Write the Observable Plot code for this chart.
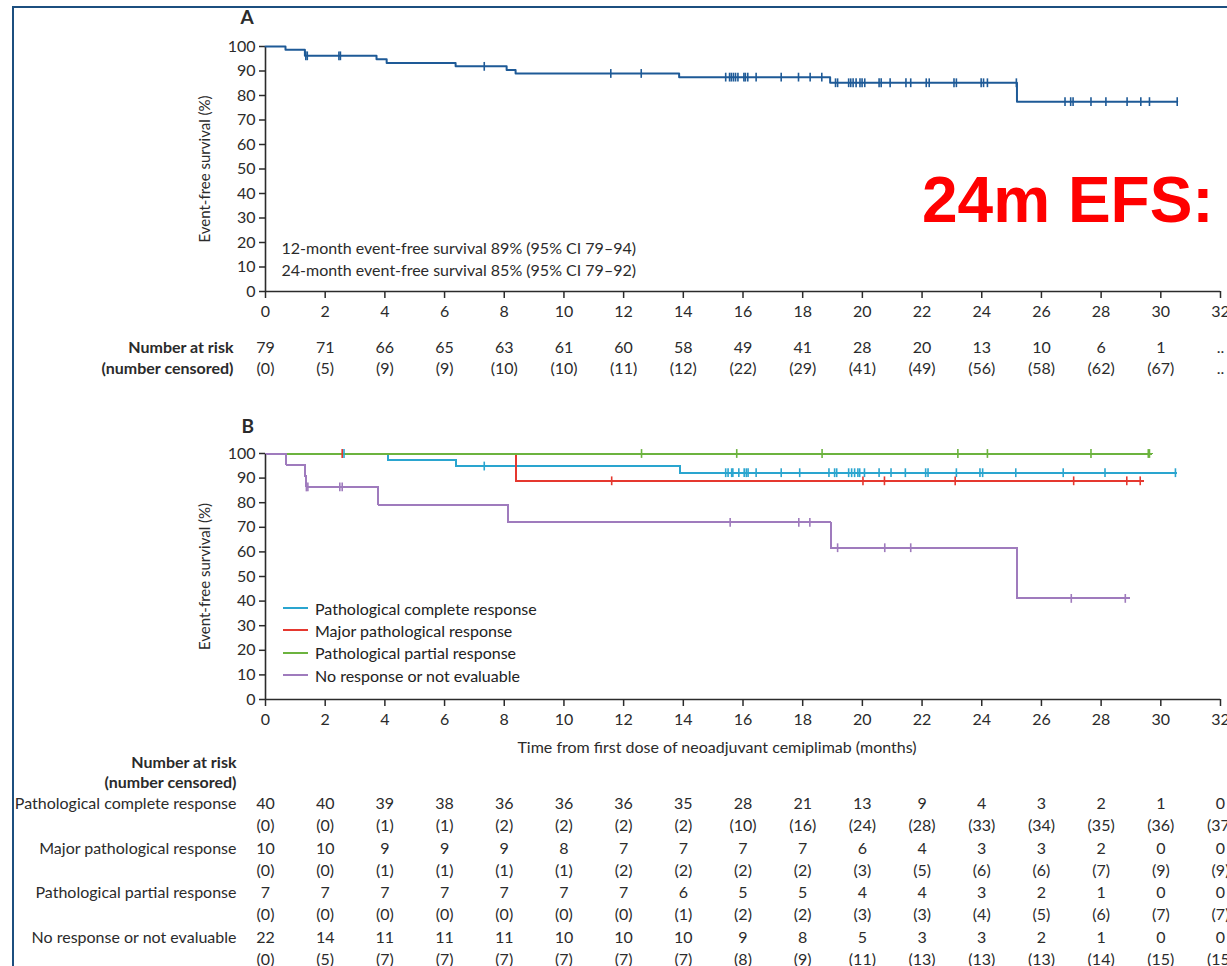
<!DOCTYPE html>
<html>
<head>
<meta charset="utf-8">
<script src="https://cdn.jsdelivr.net/npm/d3@7"></script>
<script src="https://cdn.jsdelivr.net/npm/@observablehq/plot@0.6"></script>
<style>
  html, body { margin: 0; padding: 0; background: #fff; width: 1227px; height: 966px; overflow: hidden; }
  #page { position: relative; width: 1227px; height: 966px; overflow: hidden; font-family: Lato, sans-serif; color: #222; }
  #frame { position: absolute; left: 12px; top: 6px; width: 1260px; height: 1010px; border: 2.5px solid #1c4f7f; box-sizing: border-box; }
  #panelA { position: absolute; left: 0; top: 0; }
  #panelB { position: absolute; left: 0; top: 390px; }
  #panelA svg, #panelB svg { max-width: none; }
  #stamp { position: absolute; left: 922px; top: 168px; font: bold 64px "Liberation Sans", Arial, sans-serif; line-height: 64px; color: #ff0000; white-space: nowrap; }
  #legend { position: absolute; left: 283px; top: 597px; font-size: 16px; color: #222; }
  #legend .row { display: flex; align-items: center; height: 22.3px; }
  #legend .sw { width: 25px; height: 0; border-top: 2px solid; margin-right: 7px; }
</style>
</head>
<body>
<div id="page">
  <div id="frame"></div>
  <div id="panelA"></div>
  <div id="panelB"></div>
  <div id="legend"></div>
  <div id="stamp">24m EFS:</div>
</div>
<script>
// ---------- axes ----------
const monthTicks = [0, 2, 4, 6, 8, 10, 12, 14, 16, 18, 20, 22, 24, 26, 28, 30, 32];
const percentTicks = [0, 10, 20, 30, 40, 50, 60, 70, 80, 90, 100];

// ---------- A: event-free survival, all patients (months, %) ----------
const efsTime  = [0, 0.67, 1.32, 3.72, 4.06, 6.37, 8.08, 8.38, 13.86, 18.92, 25.18, 30.55];
const efsValue = [100, 98.7, 96.2, 94.8, 93.3, 91.9, 90.4, 89.0, 87.5, 85.2, 77.5, 77.5];
const efsCensored = [1.35, 1.40, 2.46, 2.51, 7.33, 11.57, 12.59, 15.42, 15.55, 15.61, 15.68, 15.75,
  15.83, 16.03, 16.08, 16.16, 16.44, 17.28, 17.86, 18.25, 18.64, 19.10, 19.17, 19.54, 19.61, 19.69,
  19.79, 19.92, 19.99, 20.08, 20.56, 20.63, 20.93, 21.46, 21.62, 22.14, 22.24, 23.07, 23.15, 23.98,
  24.06, 24.19, 25.16, 26.79, 26.98, 27.06, 27.66, 28.16, 28.87, 29.33, 29.62, 30.55];
const efsAnnotation = [
  "12-month event-free survival 89% (95% CI 79–94)",
  "24-month event-free survival 85% (95% CI 79–92)"
];
const overallAtRisk   = [79, 71, 66, 65, 63, 61, 60, 58, 49, 41, 28, 20, 13, 10, 6, 1, null];
const overallCensored = [0, 5, 9, 9, 10, 10, 11, 12, 22, 29, 41, 49, 56, 58, 62, 67, null];

// ---------- B: event-free survival by pathological response ----------
const responseGroups = [
  "Pathological complete response",
  "Major pathological response",
  "Pathological partial response",
  "No response or not evaluable"
];
const groupColors = ["#2aa5cf", "#e5382f", "#6cb33f", "#9f7bbd"];

const pcrTime  = [0, 4.10, 6.39, 13.88, 30.52];
const pcrValue = [100, 97.4, 94.9, 92.2, 92.2];
const pcrCensored = [2.63, 7.33, 15.42, 15.50, 15.62, 15.66, 15.86, 16.04, 16.11, 16.17, 16.44, 17.28,
  17.90, 18.88, 19.07, 19.14, 19.54, 19.64, 19.74, 19.85, 19.91, 20.07, 20.56, 20.96, 21.44, 22.12,
  22.20, 23.15, 23.94, 24.03, 25.14, 26.73, 28.13, 30.49];

const mprTime  = [0, 8.38, 29.40];
const mprValue = [100, 88.9, 88.9];
const mprCensored = [2.57, 11.60, 20.02, 20.74, 23.11, 27.08, 28.86, 29.31];

const pprTime  = [0, 29.70];
const pprValue = [100, 100];
const pprCensored = [12.60, 15.79, 18.65, 23.20, 24.19, 27.66, 29.58, 29.62];

const nrTime  = [0, 0.70, 1.32, 1.37, 3.78, 8.12, 18.94, 25.18, 28.95];
const nrValue = [100, 95.5, 90.9, 86.4, 79.2, 72.0, 61.7, 41.1, 41.1];
const nrCensored = [1.37, 1.42, 2.49, 2.57, 15.57, 17.87, 18.24, 19.17, 20.75, 21.62, 27.00, 28.81];

const groupAtRisk = [
  [40, 40, 39, 38, 36, 36, 36, 35, 28, 21, 13, 9, 4, 3, 2, 1, 0],
  [10, 10, 9, 9, 9, 8, 7, 7, 7, 7, 6, 4, 3, 3, 2, 0, 0],
  [7, 7, 7, 7, 7, 7, 7, 6, 5, 5, 4, 4, 3, 2, 1, 0, 0],
  [22, 14, 11, 11, 11, 10, 10, 10, 9, 8, 5, 3, 3, 2, 1, 0, 0]
];
const groupCensored = [
  [0, 0, 1, 1, 2, 2, 2, 2, 10, 16, 24, 28, 33, 34, 35, 36, 37],
  [0, 0, 1, 1, 1, 1, 2, 2, 2, 2, 3, 5, 6, 6, 7, 9, 9],
  [0, 0, 0, 0, 0, 0, 0, 1, 2, 2, 3, 3, 4, 5, 6, 7, 7],
  [0, 5, 7, 7, 7, 7, 7, 7, 8, 9, 11, 13, 13, 13, 14, 15, 15]
];

// ---------- helpers ----------
const curve = (times, values, group) => times.map((t, i) => ({t, s: values[i], group}));
// survival level of a step curve at time t (used to sit censor marks on the line)
const levelAt = (times, values, t) => {
  let v = values[0];
  for (let i = 0; i < times.length; ++i) if (times[i] <= t) v = values[i];
  return v;
};
const censorMarks = (censored, times, values, group) =>
  censored.map(t => ({t, s: levelAt(times, values, t), group}));
const tableRow = (values, paren) => monthTicks.map((t, i) => ({
  t, text: values[i] == null ? ".." : paren ? `(${values[i]})` : `${values[i]}`
}));
// vertical bar symbol for censoring ticks
const censorBar = {draw(ctx, size) { const h = Math.sqrt(size / Math.PI); ctx.moveTo(0, -h); ctx.lineTo(0, h); }};

const W = 1240, ML = 265, MR = 20;
const ink = "#2b2b2b";
const baseStyle = {fontFamily: "Lato, sans-serif", fontSize: "16px", color: ink, background: "transparent", overflow: "visible", maxWidth: "none"};

function axes() {
  return [
    Plot.axisY({ticks: percentTicks, tickSize: 6, tickPadding: 4, label: null, strokeWidth: 1.5}),
    Plot.axisX({ticks: monthTicks, tickSize: 7, tickPadding: 7, label: null, strokeWidth: 1.5}),
    Plot.ruleX([0], {stroke: ink, strokeWidth: 1.6}),
    Plot.ruleY([0], {stroke: ink, strokeWidth: 1.6}),
    Plot.text(["Event-free survival (%)"], {frameAnchor: "left", textAnchor: "middle", lineAnchor: "middle", rotate: -90, dx: -60, fontSize: 15})
  ];
}

// ---------- panel A ----------
const colorA = "#1e5a97";
const panelA = Plot.plot({
  width: W, height: 390,
  marginLeft: ML, marginRight: MR, marginTop: 46, marginBottom: 99,
  style: baseStyle,
  x: {domain: [0, 32]},
  y: {domain: [0, 100]},
  marks: [
    ...axes(),
    Plot.line(curve(efsTime, efsValue, "all"), {x: "t", y: "s", curve: "step-after", stroke: colorA, strokeWidth: 2}),
    Plot.dot(censorMarks(efsCensored, efsTime, efsValue, "all"), {x: "t", y: "s", symbol: censorBar, r: 4.4, stroke: colorA, strokeWidth: 1.6}),
    Plot.text([efsAnnotation[0]], {frameAnchor: "bottom-left", textAnchor: "start", lineAnchor: "middle", dx: 16, dy: -43}),
    Plot.text([efsAnnotation[1]], {frameAnchor: "bottom-left", textAnchor: "start", lineAnchor: "middle", dx: 16, dy: -21}),
    Plot.text(["A"], {frameAnchor: "top-left", dx: -25, dy: -36, fontSize: 19, fontWeight: "bold"}),
    Plot.text(["Number at risk"], {frameAnchor: "bottom-left", textAnchor: "end", lineAnchor: "middle", dx: -32, dy: 56, fontWeight: "bold"}),
    Plot.text(["(number censored)"], {frameAnchor: "bottom-left", textAnchor: "end", lineAnchor: "middle", dx: -32, dy: 77, fontWeight: "bold"}),
    Plot.text(tableRow(overallAtRisk, false), {x: "t", text: "text", frameAnchor: "bottom", lineAnchor: "middle", dy: 56}),
    Plot.text(tableRow(overallCensored, true), {x: "t", text: "text", frameAnchor: "bottom", lineAnchor: "middle", dy: 77})
  ]
});
document.getElementById("panelA").append(panelA);

// ---------- panel B ----------
const groupCurves = [
  curve(pcrTime, pcrValue, responseGroups[0]),
  curve(mprTime, mprValue, responseGroups[1]),
  curve(pprTime, pprValue, responseGroups[2]),
  curve(nrTime, nrValue, responseGroups[3])
];
const groupCensors = [
  censorMarks(pcrCensored, pcrTime, pcrValue, responseGroups[0]),
  censorMarks(mprCensored, mprTime, mprValue, responseGroups[1]),
  censorMarks(pprCensored, pprTime, pprValue, responseGroups[2]),
  censorMarks(nrCensored, nrTime, nrValue, responseGroups[3])
];
const rowOffsets = [104, 126, 149, 171, 193, 215, 238, 260];

const panelB = Plot.plot({
  width: W, height: 576,
  marginLeft: ML, marginRight: MR, marginTop: 63, marginBottom: 267,
  style: baseStyle,
  x: {domain: [0, 32]},
  y: {domain: [0, 100]},
  color: {domain: responseGroups, range: groupColors},
  marks: [
    ...axes(),
    // overlapping segments at 100% stay a single clean colour with crisp edges
    ...groupCurves.map(c => Plot.line(c, {x: "t", y: "s", curve: "step-after", stroke: "group", strokeWidth: 2, shapeRendering: "crispEdges"})),
    ...groupCensors.map(c => Plot.dot(c, {x: "t", y: "s", symbol: censorBar, r: 4.4, stroke: "group", strokeWidth: 1.6})),
    Plot.text(["B"], {frameAnchor: "top-left", dx: -24, dy: -34, fontSize: 19, fontWeight: "bold"}),
    Plot.text(["Time from first dose of neoadjuvant cemiplimab (months)"], {frameAnchor: "bottom", lineAnchor: "middle", dx: -26, dy: 48}),
    Plot.text(["Number at risk"], {frameAnchor: "bottom-left", textAnchor: "end", lineAnchor: "middle", dx: -29, dy: 63, fontWeight: "bold"}),
    Plot.text(["(number censored)"], {frameAnchor: "bottom-left", textAnchor: "end", lineAnchor: "middle", dx: -29, dy: 83, fontWeight: "bold"}),
    ...responseGroups.flatMap((g, k) => [
      Plot.text([g], {frameAnchor: "bottom-left", textAnchor: "end", lineAnchor: "middle", dx: -29, dy: rowOffsets[2 * k]}),
      Plot.text(tableRow(groupAtRisk[k], false), {x: "t", text: "text", frameAnchor: "bottom", lineAnchor: "middle", dy: rowOffsets[2 * k]}),
      Plot.text(tableRow(groupCensored[k], true), {x: "t", text: "text", frameAnchor: "bottom", lineAnchor: "middle", dy: rowOffsets[2 * k + 1]})
    ])
  ]
});
document.getElementById("panelB").append(panelB);

// ---------- legend for panel B ----------
const legend = document.getElementById("legend");
responseGroups.forEach((g, i) => {
  const row = document.createElement("div");
  row.className = "row";
  const sw = document.createElement("span");
  sw.className = "sw";
  sw.style.borderTopColor = groupColors[i];
  const label = document.createElement("span");
  label.textContent = g;
  row.append(sw, label);
  legend.append(row);
});
</script>
</body>
</html>
